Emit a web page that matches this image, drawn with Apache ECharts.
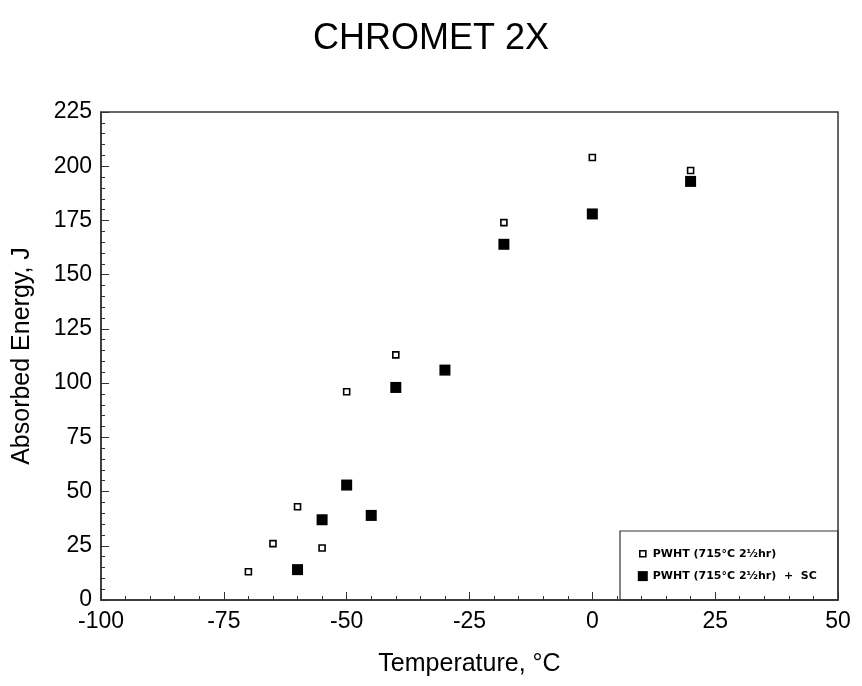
<!DOCTYPE html>
<html>
<head>
    <meta charset="utf-8" />
    <title>CHROMET 2X</title>
    <script src="https://cdn.jsdelivr.net/npm/echarts@6/dist/echarts.min.js"></script>
    <style>
        html, body { margin: 0; padding: 0; background: #fff; }
        #container { width: 862px; height: 686px; }
    </style>
</head>
<body>
    <div id="container"></div>
    <script>
        // PWHT (715°C 2½hr)
        var pwhtTemp = [-70, -65, -60, -55, -50, -40, -18, 0, 20];
        var pwhtEnergy = [13, 26, 43, 24, 96, 113, 174, 204, 198];
        // PWHT (715°C 2½hr) + SC
        var scTemp = [-60, -55, -50, -45, -40, -30, -18, 0, 20];
        var scEnergy = [14, 37, 53, 39, 98, 106, 164, 178, 193];

        var nameOpen = 'PWHT (715°C 2½hr)';
        var nameSC = 'PWHT (715°C 2½hr)  +  SC';

        function pairs(xs, ys) {
            return xs.map(function (x, i) { return [x, ys[i]]; });
        }

        var font = 'Liberation Sans, Arial, sans-serif';
        var myChart = echarts.init(document.getElementById('container'));
        var option = {
            backgroundColor: '#fff',
            animation: false,
            title: {
                text: 'CHROMET 2X',
                left: 'center',
                top: 16,
                textStyle: { fontFamily: font, fontSize: 36, fontWeight: 'normal', color: '#000' }
            },
            grid: {
                left: 101, top: 112, right: 24, bottom: 86,
                show: true, borderColor: '#333', borderWidth: 1.5
            },
            legend: {
                orient: 'vertical',
                left: 632, top: 543,
                itemGap: 11,
                itemWidth: 10, itemHeight: 10,
                textStyle: { fontFamily: 'DejaVu Sans, sans-serif', fontSize: 11, fontWeight: 'bold', color: '#000' },
                data: [
                    {
                        name: nameOpen,
                        icon: 'path://M0,0M10,10M2,2L8,2L8,8L2,8Z',
                        itemStyle: { color: '#fff', borderColor: '#000', borderWidth: 1.6 }
                    },
                    { name: nameSC, icon: 'rect', itemStyle: { color: '#000' } }
                ]
            },
            graphic: [{
                type: 'rect',
                shape: { x: 620, y: 531, width: 218, height: 69 },
                style: { fill: 'none', stroke: '#333', lineWidth: 1.2 },
                z: 10
            }],
            xAxis: {
                type: 'value',
                min: -100, max: 50, interval: 25,
                name: 'Temperature, °C',
                nameLocation: 'middle',
                nameGap: 52,
                nameTextStyle: { fontFamily: font, fontSize: 25, color: '#000' },
                axisLine: { show: true, onZero: false, lineStyle: { color: '#333', width: 1.5 } },
                axisTick: { show: true, inside: true, length: 8, lineStyle: { color: '#333' } },
                minorTick: { show: true, splitNumber: 5, length: 4, lineStyle: { color: '#333' } },
                axisLabel: { fontFamily: font, fontSize: 23, color: '#000', margin: 10 },
                splitLine: { show: false }
            },
            yAxis: {
                type: 'value',
                min: 0, max: 225, interval: 25,
                name: 'Absorbed Energy, J',
                nameLocation: 'middle',
                nameGap: 66,
                nameTextStyle: { fontFamily: font, fontSize: 25, color: '#000' },
                axisLine: { show: true, onZero: false, lineStyle: { color: '#333', width: 1.5 } },
                axisTick: { show: true, inside: true, length: 8, lineStyle: { color: '#333' } },
                minorTick: { show: true, splitNumber: 5, length: 4, lineStyle: { color: '#333' } },
                axisLabel: { fontFamily: font, fontSize: 23, color: '#000', margin: 9 },
                splitLine: { show: false }
            },
            series: [
                {
                    name: nameOpen,
                    type: 'scatter',
                    symbol: 'rect',
                    symbolSize: 6,
                    itemStyle: { color: '#fff', borderColor: '#000', borderWidth: 1.6, opacity: 1 },
                    data: pairs(pwhtTemp, pwhtEnergy)
                },
                {
                    name: nameSC,
                    type: 'scatter',
                    symbol: 'rect',
                    symbolSize: 11,
                    itemStyle: { color: '#000', opacity: 1 },
                    data: pairs(scTemp, scEnergy)
                }
            ]
        };
        myChart.setOption(option);
    </script>
</body>
</html>
